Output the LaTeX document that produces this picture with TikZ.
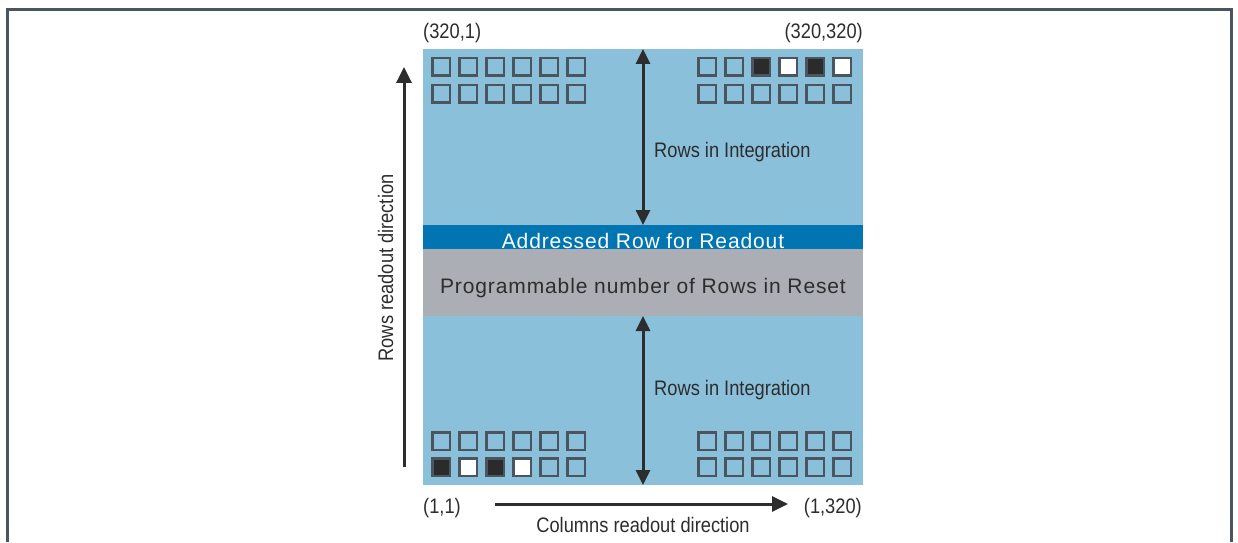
\documentclass[tikz,border=0pt]{standalone}
\usepackage{fontspec}
\usetikzlibrary{arrows.meta}
\newfontfamily\labelfont{Liberation Sans}[FakeStretch=0.87]
\newfontfamily\bandfont{Liberation Sans}[LetterSpace=4.2]
\definecolor{skyblue}{RGB}{139,192,219}
\definecolor{rowblue}{RGB}{0,117,178}
\definecolor{resetgray}{RGB}{171,174,181}
\definecolor{pixedge}{RGB}{74,85,96}
\definecolor{pixdark}{RGB}{43,43,43}
\definecolor{inkgray}{RGB}{45,45,45}
\tikzset{
  pix/.style={draw=pixedge, line width=2.5pt, minimum size=17.5pt, inner sep=0pt, fill=skyblue},
  lbl/.style={font=\labelfont\fontsize{21}{25}\selectfont, text=inkgray, inner sep=0pt, anchor=base},
  band/.style={font=\bandfont\fontsize{21}{25}\selectfont, inner sep=0pt, anchor=base},
  dirarrow/.style={draw=inkgray, line width=3pt, -{Triangle[width=15pt,length=16pt]}},
  intarrow/.style={draw=inkgray, line width=3pt, {Triangle[width=14pt,length=15pt]}-{Triangle[width=14pt,length=15pt]}},
}
\begin{document}
\begin{tikzpicture}[x=1pt,y=1pt]
        \useasboundingbox (0,0) rectangle (1238,542);
        \draw[pixedge, line width=3pt] (7,0) -- (7,532) -- (1231,532) -- (1231,0); %frame

        \fill[skyblue] (423,57) rectangle (863,493); %array
        \fill[rowblue] (423,293) rectangle (863,317); %readout row
        \fill[resetgray] (423,226) rectangle (863,293); %reset rows
        \node[band, text=white] (readrow) at (643,294) {Addressed Row for Readout};
        \node[band, text=inkgray] (reset) at (643,249) {Programmable number of Rows in Reset};

        % pixels
        \foreach \c in {0,...,5} {
            \node[pix] (tl-a-\c) at (441+27*\c,475) {};
            \node[pix] (tl-b-\c) at (441+27*\c,448) {};
            \node[pix] (tr-b-\c) at (707+27*\c,448) {};
            \node[pix] (bl-a-\c) at (441+27*\c,101) {};
            \node[pix] (br-a-\c) at (707+27*\c,101) {};
            \node[pix] (br-b-\c) at (707+27*\c,75) {};
        }
        \foreach \c/\f in {0/skyblue,1/skyblue,2/pixdark,3/white,4/pixdark,5/white}
            \node[pix, fill=\f] (tr-a-\c) at (707+27*\c,475) {};
        \foreach \c/\f in {0/pixdark,1/white,2/pixdark,3/white,4/skyblue,5/skyblue}
            \node[pix, fill=\f] (bl-b-\c) at (441+27*\c,75) {};

        % rows in integration
        \coordinate (intTopA) at (643,493);
        \coordinate (intTopB) at (643,317);
        \coordinate (intBotA) at (643,226);
        \coordinate (intBotB) at (643,57);
        \draw[intarrow] (intTopA) -- (intTopB);
        \draw[intarrow] (intBotA) -- (intBotB);
        \node[lbl, anchor=base west] (intTop) at (654,385) {Rows in Integration};
        \node[lbl, anchor=base west] (intBot) at (654,147) {Rows in Integration};

        % readout directions
        \coordinate (rowsFrom) at (404,75);
        \coordinate (rowsTo) at (404,475);
        \draw[dirarrow] (rowsFrom) -- (rowsTo);
        \node[lbl, rotate=90] (rowsdir) at (393,274) {Rows readout direction};
        \coordinate (colsFrom) at (495,38);
        \coordinate (colsTo) at (788,38);
        \draw[dirarrow] (colsFrom) -- (colsTo);
        \node[lbl] (colsdir) at (643,10) {Columns readout direction};

        % corner addresses
        \node[lbl, anchor=base west] (c3201) at (423,503.4) {(320,1)};
        \node[lbl, anchor=base east] (c320320) at (863,503.4) {(320,320)};
        \node[lbl, anchor=base west] (c11) at (423,28.4) {(1,1)};
        \node[lbl, anchor=base east] (c1320) at (862,28.4) {(1,320)};
\end{tikzpicture}
\end{document}
